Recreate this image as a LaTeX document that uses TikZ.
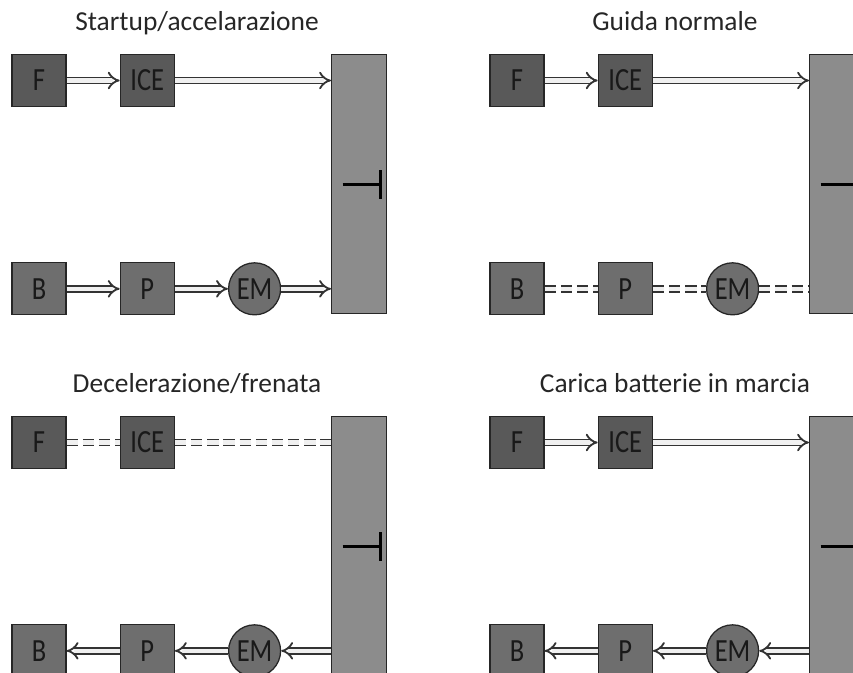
\documentclass[tikz,border=0pt]{standalone}
\usepackage{fontspec}
\setmainfont{Carlito}
\newfontfamily\boxfont[FakeStretch=0.82]{Carlito}
\usetikzlibrary{arrows.meta,positioning}

% one driving mode: id, shift, title, upper link style, lower link style
\newcommand{\drivemode}[5]{%
\begin{scope}[shift={#2}]
  \node[modetitle, anchor=base] (title#1) at (197,30) {#3};
  \node[engine] (F#1) at (39,80.5) {F};
  \node[engine, right=1.325cm of F#1] (ICE#1) {ICE};
  \node[electric, below=3.875cm of F#1] (B#1) {B};
  \node[electric, right=1.325cm of B#1] (P#1) {P};
  \node[motor, right=1.325cm of P#1] (EM#1) {EM};
  \node[gearbox, anchor=north west] (G#1) at (331,54) {};
  \draw[brake] ([xshift=-4.1mm]G#1.center) -- ([xshift=5.4mm]G#1.center)
               ([xshift=5.4mm, yshift=3.5mm]G#1.center) -- ([xshift=5.4mm, yshift=-3.8mm]G#1.center);
  \draw[#4] (F#1) -- (ICE#1);
  \draw[#4] (ICE#1) -- (ICE#1 -| G#1.west);
  \draw[#5] (B#1) -- (P#1);
  \draw[#5] (P#1) -- (EM#1);
  \draw[#5] (EM#1) -- (EM#1 -| G#1.west);
\end{scope}}

\begin{document}
\begin{tikzpicture}[
    x=0.025cm, y=-0.025cm,
    modetitle/.style={font=\fontsize{19.5}{23}\selectfont, text=black!85},
    unit/.style={
        draw=black!85,
        line width=0.9pt,
        minimum width=1.35cm,
        minimum height=1.3cm,
        inner sep=0pt,
        font=\boxfont\fontsize{23}{26}\selectfont,
        text=black!90
    },
    engine/.style={unit, fill=black!65},
    electric/.style={unit, fill=black!57},
    motor/.style={electric, circle, minimum size=1.3cm},
    gearbox/.style={
        draw=black!85,
        line width=0.9pt,
        fill=black!45,
        minimum width=1.375cm,
        minimum height=6.475cm
    },
    brake/.style={line width=2.2pt},
    link/.style={draw=black!80, line width=1.3pt, double=black!6, double distance=2.9pt},
    flow/.style={link, -{Implies[scale=0.8]}},
    back/.style={link, {Implies[scale=0.8]}-},
    idle/.style={link, dash pattern=on 8pt off 3.5pt}
]

\useasboundingbox (0,0) rectangle (853,672);
\clip (0,0) rectangle (853,672);

\drivemode{a}{(0,0)}{Startup/accelarazione}{flow}{flow}
\drivemode{b}{(478,0)}{Guida normale}{flow}{idle}
\drivemode{c}{(0,362)}{Decelerazione/frenata}{idle}{back}
\drivemode{d}{(478,362)}{Carica batterie in marcia}{flow}{back}

\end{tikzpicture}
\end{document}
